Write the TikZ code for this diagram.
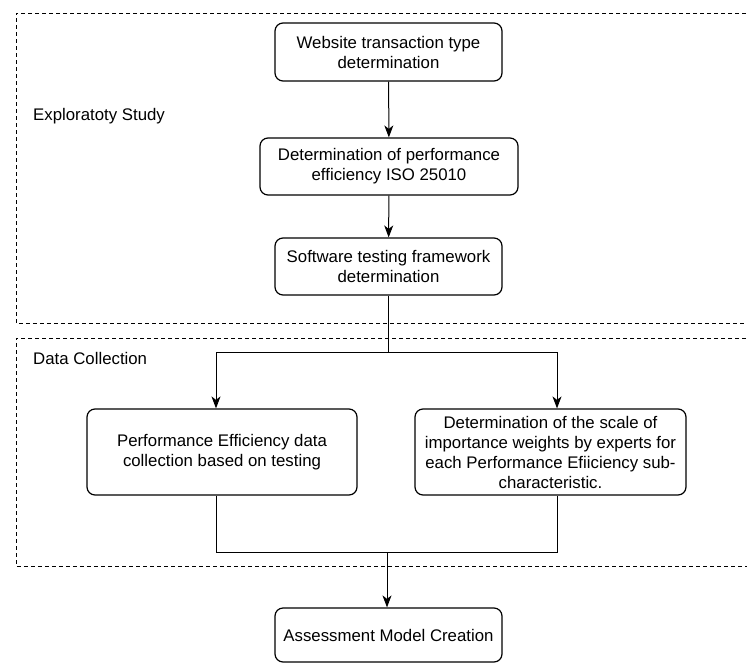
\documentclass[tikz,border=0pt]{standalone}
\usepackage{fontspec}
\setmainfont{Liberation Sans}
\usetikzlibrary{arrows.meta}
\begin{document}
\begin{tikzpicture}[x=1pt,y=-1pt,
  txt/.style={font=\fontsize{16.8}{20}\selectfont},
  box/.style={txt, draw, rounded corners=8pt, line width=1.2pt, align=center, inner sep=0pt},
  zone/.style={draw, dash pattern=on 4pt off 3pt, line width=1pt},
  flow/.style={line width=1pt, -{Stealth[length=12pt,width=9pt,inset=3.5pt]}},
  link/.style={line width=1pt},
  lbl/.style={txt, anchor=west, inner sep=0pt}]
\useasboundingbox (0,0) rectangle (747,664);
\clip (0,0) rectangle (747,664);
% zones
\draw[zone] (760,13) -- (16,13) -- (16,323) -- (760,323);
\draw[zone] (760,338) -- (16,338) -- (16,566) -- (760,566);
\node[lbl] (lz1) at (33,116) {Exploratoty Study};
\node[lbl] (lz2) at (33,358) {Data Collection};
% nodes
\node[box, minimum width=227pt, minimum height=58pt] (n1) at (388.5,52) {Website transaction type\\determination};
\node[box, minimum width=258pt, minimum height=57pt] (n2) at (389,166.5) {Determination of performance\\efficiency ISO 25010};
\node[box, minimum width=227pt, minimum height=57pt] (n3) at (388.5,266.5) {Software testing framework\\determination};
\node[box, minimum width=270pt, minimum height=86pt] (n4) at (222,452) {Performance Efficiency data\\collection based on testing};
\node[box, minimum width=271pt, minimum height=86pt] (n5) at (550.5,452) {Determination of the scale of\\importance weights by experts for\\each Performance Efiiciency sub-\\characteristic.};
\node[box, minimum width=227pt, minimum height=54pt] (n6) at (388.5,635) {Assessment Model Creation};
% split / join points
\coordinate (s) at (388.5,352);
\coordinate (sl) at (216,352);
\coordinate (sr) at (557,352);
\coordinate (jl) at (216,552);
\coordinate (jr) at (557,552);
\coordinate (j) at (387,552);
% connectors
\draw[flow] (n1) -- (n2);
\draw[flow] (n2) -- (n3);
\draw[link] (n3.south) -- (s);
\draw[flow] (s) -- (sl) -- (sl |- n4.north);
\draw[flow] (s) -- (sr) -- (sr |- n5.north);
\draw[link] (jl |- n4.south) -- (jl) -- (jr) -- (jr |- n5.south);
\draw[flow] (j) -- (j |- n6.north);
\end{tikzpicture}
\end{document}
